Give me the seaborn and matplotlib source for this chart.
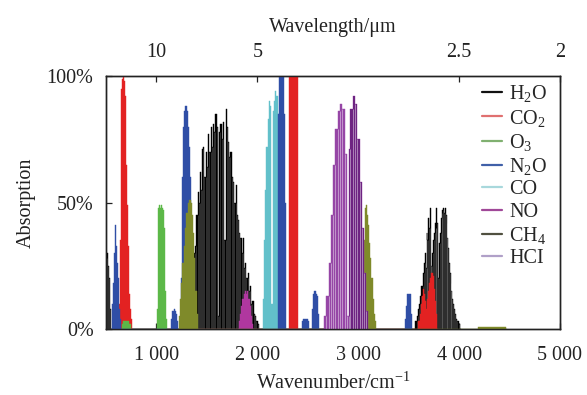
import numpy as np
import matplotlib
matplotlib.use("Agg")
import matplotlib.pyplot as plt
import seaborn as sns
from matplotlib.lines import Line2D
from matplotlib.ticker import FixedLocator, FuncFormatter

# ---------------- data (wavenumber cm^-1, absorption %) ----------------
h2o_wn = [500, 510, 520, 530, 542, 555,
          1372, 1380, 1392, 1401, 1413, 1425, 1434, 1446, 1457, 1467, 1480, 1494, 1505,
          1517, 1530, 1544, 1556, 1567, 1578, 1590, 1603, 1616, 1628, 1640, 1653, 1666,
          1678, 1693, 1705, 1716, 1728, 1739, 1752, 1765, 1778, 1792, 1803, 1815, 1827,
          1839, 1852, 1865, 1875, 1885, 1897, 1908, 1920, 1931, 1945, 1958, 1970, 1981,
          1995, 2010, 2025,
          3560, 3571, 3585, 3598, 3610, 3621, 3633, 3644, 3654, 3664, 3673, 3681, 3690,
          3698, 3706, 3714, 3722, 3730, 3738, 3747, 3755, 3763, 3771, 3780, 3788, 3797,
          3805, 3813, 3822, 3830, 3838, 3847, 3855, 3863, 3872, 3880, 3888, 3896, 3904,
          3912, 3920, 3929, 3938, 3946, 3954, 3962, 3974, 3986, 4002, 4015]
h2o_abs = [28, 30, 25, 20, 8, 0,
           0, 30, 33, 45, 54, 50, 62, 55, 71, 72, 60, 70, 64,
           77, 70, 80, 72, 81, 78, 85, 80, 5, 78, 81, 75, 82,
           35, 87, 80, 74, 68, 70, 60, 58, 50, 57, 45, 43, 38,
           36, 30, 36, 24, 26, 20, 22, 15, 17, 10, 11, 6, 5,
           3, 2, 0,
           0, 3, 5, 8, 10, 13, 17, 22, 26, 30, 24, 38, 35,
           44, 40, 48, 40, 25, 30, 35, 38, 42, 40, 48, 42, 20,
           34, 38, 44, 46, 47, 48, 46, 48, 45, 42, 36, 32, 26,
           22, 18, 15, 12, 10, 8, 6, 4, 3, 2, 0]

co2_wn = [628, 635, 642, 650, 656, 662, 668, 675, 682, 690, 697, 704, 712, 720, 728,
          736, 744, 752, 760,
          2305, 2318, 2330, 2345, 2360, 2375, 2390, 2402, 2412,
          3590, 3602, 3615, 3625, 3635, 3645, 3655, 3665, 3675, 3685, 3695, 3705, 3715,
          3725, 3735, 3745, 3755, 3765, 3775, 3790]
co2_abs = [0, 10, 35, 80, 95, 99, 100, 100, 98, 92, 82, 65, 49, 33, 22,
           14, 8, 4, 0,
           0, 100, 100, 100, 100, 100, 100, 100, 0,
           0, 3, 6, 10, 13, 16, 14, 11, 8, 12, 15, 18, 20,
           22, 22, 21, 16, 11, 6, 0]

o3_wn = [650, 662, 680, 700, 720, 740, 752,
         1000, 1008, 1016, 1024, 1034, 1044, 1054, 1064, 1074, 1082, 1090, 1098, 1106]
o3_abs = [0, 2, 3, 3, 3, 2, 0,
          0, 8, 40, 48, 49, 48, 49, 48, 47, 40, 15, 4, 0]

n2o_wn = [555, 563, 572, 580, 588, 596, 604, 612, 620, 629, 638, 646, 655,
          1138, 1148, 1158, 1168, 1178, 1190, 1200, 1210, 1218,
          1244, 1252, 1262, 1270, 1278, 1288, 1298, 1308, 1316, 1325, 1334, 1342, 1352,
          1362, 1372, 1380,
          2196, 2204, 2212, 2220, 2230, 2240, 2250, 2260, 2268, 2276, 2284, 2290,
          2440, 2450, 2465, 2480, 2495, 2508, 2518,
          2540, 2548, 2556, 2566, 2576, 2586, 2596, 2606, 2614,
          3460, 3468, 3476, 3484, 3492, 3500, 3508, 3516, 3524, 3532, 3540]
n2o_abs = [0, 10, 18, 22, 30, 41, 33, 26, 20, 13, 8, 4, 0,
           0, 4, 7, 7, 8, 7, 6, 3, 0,
           0, 20, 60, 80, 86, 88, 88, 86, 80, 72, 60, 48, 30,
           15, 5, 0,
           0, 40, 85, 100, 100, 100, 100, 100, 85, 50, 10, 0,
           0, 3, 4, 4, 4, 3, 0,
           0, 8, 14, 15, 15, 14, 13, 6, 0,
           0, 4, 9, 13, 14, 14, 14, 14, 13, 6, 0]

co_wn = [2050, 2060, 2072, 2084, 2096, 2108, 2120, 2132, 2145, 2158, 2170, 2182,
         2194, 2206, 2218, 2230, 2242, 2254]
co_abs = [0, 12, 35, 55, 72, 83, 90, 88, 10, 86, 90, 94,
          92, 85, 70, 50, 25, 0]

no_wn = [1810, 1822, 1834, 1846, 1858, 1870, 1882, 1894, 1906, 1918, 1930, 1942,
         1954, 1965]
no_abs = [0, 3, 6, 9, 12, 14, 15, 14, 15, 12, 9, 5, 2, 0]

ch4_wn = [1220, 1230, 1240, 1250, 1262, 1275, 1288, 1302, 1314, 1326, 1338, 1350,
          1360, 1370, 1380, 1392, 1405, 1415,
          3050, 3060, 3070, 3080, 3090, 3100, 3112, 3124, 3136, 3147, 3160, 3174, 3188,
          4180, 4200, 4250, 4300, 4350, 4400, 4450, 4470]
ch4_abs = [0, 5, 12, 18, 26, 33, 40, 46, 50, 51, 51, 50,
           45, 38, 28, 15, 6, 0,
           0, 35, 48, 49, 45, 41, 34, 28, 20, 12, 6, 3, 0,
           0, 1, 1, 1, 1, 1, 1, 0]

hcl_wn = [2650, 2670, 2694, 2717, 2737, 2760, 2783, 2809, 2829, 2853, 2876, 2897,
          2911, 2935, 2960, 2982, 3003, 3025, 3048, 3068, 3091, 3110]
hcl_abs = [0, 5, 13, 26, 45, 65, 79, 86, 89, 87, 69, 5,
           71, 87, 92, 89, 75, 58, 40, 22, 7, 0]

gas_names = ["H2O", "CO2", "O3", "N2O", "CO", "NO", "CH4", "HCl"]
legend_labels = [r"H$_\mathrm{2}$O", r"CO$_\mathrm{2}$", r"O$_\mathrm{3}$",
                 r"N$_\mathrm{2}$O", "CO", "NO", r"CH$_\mathrm{4}$", "HCI"]
wl_ticks = [10, 5, 2.5, 2]
wn_ticks = [1000, 2000, 3000, 4000, 5000]
y_ticks = [0, 50, 100]

# ---------------- style ----------------
sns.set_theme(style="ticks")
plt.rcParams["font.family"] = ["Liberation Serif", "DejaVu Serif"]
plt.rcParams["mathtext.fontset"] = "custom"
plt.rcParams["mathtext.rm"] = "Liberation Serif"
plt.rcParams["mathtext.it"] = "Liberation Serif:italic"
plt.rcParams["mathtext.bf"] = "Liberation Serif:bold"
plt.rcParams["patch.edgecolor"] = "none"

colors = {"H2O": "#000000", "CO2": "#e32222", "O3": "#5cb848", "N2O": "#2f4ea6",
          "CO": "#62c0ca", "NO": "#b0379f", "CH4": "#7f8a2a", "HCl": "#9646a6"}
hcl_dark = "#6e2482"
legend_colors = {"H2O": "#111111", "CO2": "#e07070", "O3": "#80b070", "N2O": "#4060a8",
                 "CO": "#a8d8dc", "NO": "#a04898", "CH4": "#505040", "HCl": "#b0a0c8"}
comb_alpha = {"H2O": 0.22, "HCl": 0.5}

data = {"H2O": (h2o_wn, h2o_abs), "CO2": (co2_wn, co2_abs), "O3": (o3_wn, o3_abs),
        "N2O": (n2o_wn, n2o_abs), "CO": (co_wn, co_abs), "NO": (no_wn, no_abs),
        "CH4": (ch4_wn, ch4_abs), "HCl": (hcl_wn, hcl_abs)}

fig = plt.figure(figsize=(5.87, 3.95), dpi=100)
ax = fig.add_axes([0.1806, 0.167, 0.7734, 0.6406])

draw_order = ["H2O", "CO2", "O3", "CO", "N2O", "NO", "CH4", "HCl"]
for i, g in enumerate(draw_order):
    wn, ab = data[g]
    wn = np.asarray(wn, float)
    ab = np.asarray(ab, float)
    z = 3 + i * 0.1
    # envelope outline (seaborn) sits underneath the solid fill
    sns.lineplot(x=wn, y=ab, color=colors[g], linewidth=0.3, drawstyle="steps-mid",
                 estimator=None, sort=False, ax=ax, zorder=z - 0.05, legend=False)
    ax.fill_between(wn, 0, ab, step="mid", facecolor=colors[g], edgecolor="none",
                    linewidth=0, zorder=z)
    if g == "HCl":
        r_branch = np.where(wn >= 2904, ab, 0)
        ax.fill_between(wn, 0, r_branch, step="mid", facecolor=hcl_dark,
                        edgecolor="none", linewidth=0, zorder=z + 0.01)
    if g in comb_alpha:
        mids = (wn[:-1] + wn[1:]) / 2
        lows = np.minimum(ab[:-1], ab[1:])
        ok = lows > 1
        ax.vlines(mids[ok], 0, lows[ok], color="white", alpha=comb_alpha[g],
                  linewidth=0.6, zorder=z + 0.02)

ax.set_xlim(500, 5000)
ax.set_ylim(0, 100)
fs = 14.5
ax.xaxis.set_major_locator(FixedLocator(wn_ticks))
ax.xaxis.set_major_formatter(FuncFormatter(lambda v, p: f"{v:,.0f}".replace(",", " ")))
ax.yaxis.set_major_locator(FixedLocator(y_ticks))
ax.yaxis.set_major_formatter(FuncFormatter(lambda v, p: f"{v:.0f}%"))
ax.tick_params(axis="both", direction="in", length=4, width=0.9, labelsize=fs,
               colors="#222222", labelcolor="#222222")
ax.tick_params(axis="x", pad=12)
ax.tick_params(axis="y", pad=9)
ax.set_xlabel("Wavenumber/cm$^{\\mathrm{-1}}$", fontsize=fs, labelpad=6, color="#222222")
ax.set_ylabel("Absorption", fontsize=fs, labelpad=8, color="#222222")

top = ax.twiny()
top.set_xlim(ax.get_xlim())
top.xaxis.set_major_locator(FixedLocator([1e4 / w for w in wl_ticks]))
top.xaxis.set_major_formatter(FuncFormatter(lambda v, p: f"{1e4 / v:g}"))
top.tick_params(axis="x", direction="in", length=4, width=0.9, labelsize=fs, pad=10,
                colors="#222222", labelcolor="#222222")
top.set_xlabel("Wavelength/\u03bcm", fontsize=fs, labelpad=8, color="#222222")

for a in (ax, top):
    for s in a.spines.values():
        s.set_visible(True)
        s.set_linewidth(1.0)
        s.set_color("#222222")

handles = [Line2D([0], [0], color=legend_colors[g], lw=1.6) for g in gas_names]
leg = ax.legend(handles, legend_labels, loc="upper left", bbox_to_anchor=(0.815, 0.995),
                frameon=False, fontsize=fs, handlelength=1.0, handletextpad=0.35,
                labelspacing=0.16, borderaxespad=0, borderpad=0.3)
leg.set_zorder(10)

fig.savefig("out.png", dpi=100)
